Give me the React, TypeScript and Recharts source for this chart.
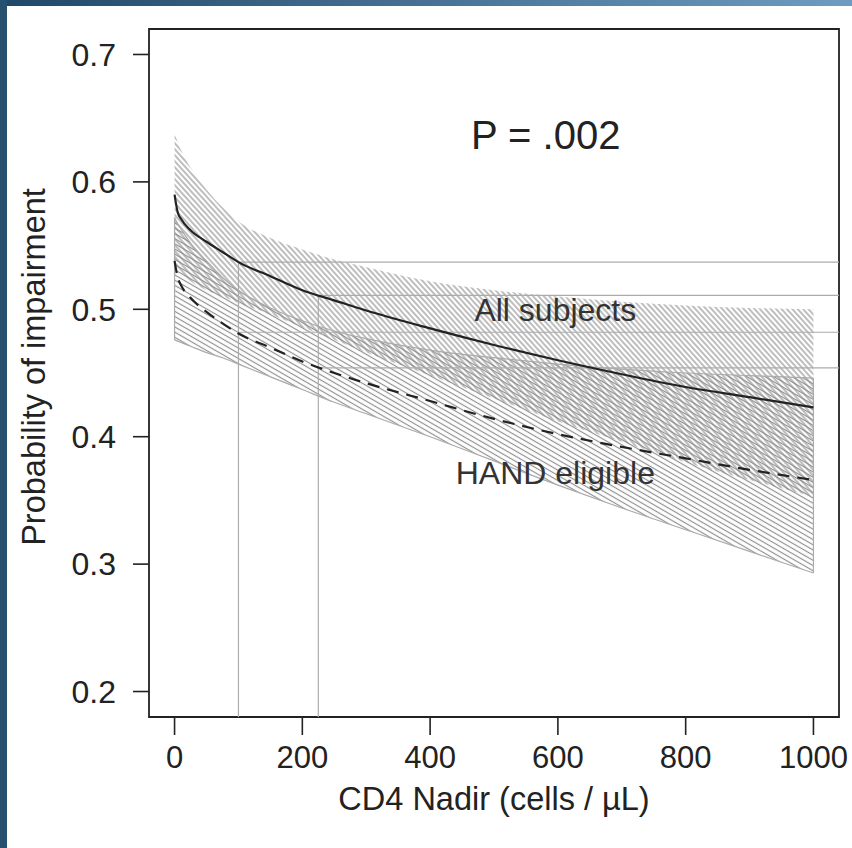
import React from "react";
import {
  Area,
  ComposedChart,
  Line,
  ReferenceArea,
  ReferenceDot,
  ReferenceLine,
  XAxis,
  YAxis,
} from "recharts";

// CD4 nadir grid the curves were read at
const cd4 = [0, 5, 10, 25, 50, 75, 100, 150, 200, 250, 300, 400, 500, 600, 700, 800, 900, 1000];

// All subjects: estimate and confidence band
const allSubjects = [0.59, 0.576, 0.571, 0.562, 0.553, 0.545, 0.537, 0.526, 0.515, 0.507, 0.499, 0.485, 0.472, 0.46, 0.449, 0.439, 0.431, 0.423];
const allUpper = [0.638, 0.631, 0.625, 0.611, 0.594, 0.58, 0.569, 0.556, 0.547, 0.539, 0.533, 0.522, 0.515, 0.51, 0.506, 0.503, 0.501, 0.5];
const allLower = [0.535, 0.531, 0.528, 0.522, 0.515, 0.51, 0.505, 0.496, 0.486, 0.476, 0.466, 0.448, 0.43, 0.412, 0.396, 0.38, 0.366, 0.353];

// HAND eligible: estimate and confidence band
const handEligible = [0.538, 0.525, 0.519, 0.509, 0.498, 0.489, 0.481, 0.47, 0.459, 0.45, 0.442, 0.428, 0.414, 0.402, 0.392, 0.383, 0.374, 0.366];
const handUpper = [0.572, 0.567, 0.563, 0.552, 0.538, 0.525, 0.515, 0.501, 0.491, 0.483, 0.477, 0.468, 0.462, 0.457, 0.453, 0.45, 0.448, 0.446];
const handLower = [0.476, 0.475, 0.474, 0.471, 0.466, 0.462, 0.457, 0.447, 0.437, 0.427, 0.418, 0.4, 0.381, 0.362, 0.344, 0.327, 0.31, 0.293];

// drop lines at two CD4 values
const markerCd4 = [100, 225];
const markerAll = [0.537, 0.511];
const markerHand = [0.482, 0.454];

const xTicks = [0, 200, 400, 600, 800, 1000];
const yTicks = [0.2, 0.3, 0.4, 0.5, 0.6, 0.7];
// ticks of the neighbouring panel, cut off at the right edge
const rightPanelTicks = [0.667, 0.6, 0.501, 0.429, 0.332];

const X_DOMAIN: [number, number] = [-40, 1040];
const Y_DOMAIN: [number, number] = [0.18, 0.72];

const FONT = "'Liberation Sans', Arial, Helvetica, sans-serif";
const INK = "#222222";
const HATCH = "#8e8e8e";
const REF = "#ababab";

const data = cd4.map((c, i) => ({
  cd4: c,
  all: allSubjects[i],
  allBand: [allLower[i], allUpper[i]],
  hand: handEligible[i],
  handBand: [handLower[i], handUpper[i]],
}));

const last = cd4.length - 1;

export default function App() {
  return (
    <div
      style={{
        position: "absolute",
        left: 0,
        top: 0,
        width: 852,
        height: 848,
        background: "#ffffff",
        overflow: "hidden",
        fontFamily: FONT,
      }}
    >
      <div style={{ position: "absolute", left: 0, top: 0, width: 852, height: 6, background: "linear-gradient(90deg, #1f4868, #6e9bc1)" }} />
      <div style={{ position: "absolute", left: 0, top: 0, width: 7, height: 848, background: "#26506f" }} />
      <div style={{ position: "absolute", left: 0, top: 0 }}>
        <ComposedChart width={852} height={848} data={data} margin={{ top: 29, right: 0, bottom: 0, left: 0 }}>
          <defs>
            <pattern id="hatchAll" patternUnits="userSpaceOnUse" width="6" height="4" patternTransform="rotate(48)">
              <line x1="0" y1="2" x2="6" y2="2" stroke={HATCH} strokeWidth="1.15" />
            </pattern>
            <pattern id="hatchHand" patternUnits="userSpaceOnUse" width="6" height="4.5" patternTransform="rotate(30)">
              <line x1="0" y1="2.25" x2="6" y2="2.25" stroke={HATCH} strokeWidth="1.15" />
            </pattern>
          </defs>
          <XAxis
            dataKey="cd4"
            type="number"
            domain={X_DOMAIN}
            ticks={xTicks}
            allowDataOverflow
            axisLine={false}
            tickSize={18}
            tickMargin={11}
            height={131}
            tickLine={{ stroke: INK, strokeWidth: 1.6 }}
            tick={{ fill: INK, fontSize: 31, fontFamily: FONT }}
            label={{ value: "CD4 Nadir (cells / µL)", position: "insideBottom", offset: 38, fill: INK, fontSize: 32.5, fontFamily: FONT }}
          />
          <YAxis
            type="number"
            domain={Y_DOMAIN}
            ticks={yTicks}
            allowDataOverflow
            axisLine={false}
            width={149}
            tickSize={16}
            tickMargin={17}
            tickFormatter={(v: number) => v.toFixed(1)}
            tickLine={{ stroke: INK, strokeWidth: 1.6 }}
            tick={{ fill: INK, fontSize: 32, fontFamily: FONT }}
            label={{ value: "Probability of impairment", angle: -90, position: "insideLeft", offset: 33, dy: -6, fill: INK, fontSize: 32.5, fontFamily: FONT, style: { textAnchor: "middle" } }}
          />
          <YAxis
            yAxisId="right"
            orientation="right"
            type="number"
            domain={Y_DOMAIN}
            ticks={rightPanelTicks}
            allowDataOverflow
            axisLine={false}
            width={13}
            tickSize={13}
            tick={false}
            tickLine={{ stroke: INK, strokeWidth: 1.6 }}
          />

          <Area
            type="monotone"
            dataKey="allBand"
            fill="url(#hatchAll)"
            fillOpacity={1}
            stroke="none"
            isAnimationActive={false}
          />
          <Area
            type="monotone"
            dataKey="handBand"
            fill="url(#hatchHand)"
            fillOpacity={1}
            stroke={REF}
            strokeWidth={1.2}
            isAnimationActive={false}
          />
          <ReferenceLine
            segment={[{ x: 0, y: handLower[0] }, { x: 0, y: handUpper[0] }]}
            stroke={REF}
            strokeWidth={1.2}
          />
          <ReferenceLine
            segment={[{ x: cd4[last], y: handLower[last] }, { x: cd4[last], y: handUpper[last] }]}
            stroke={REF}
            strokeWidth={1.2}
          />

          {markerCd4.map((c, i) => (
            <ReferenceLine key={`v${c}`} segment={[{ x: c, y: Y_DOMAIN[0] }, { x: c, y: markerAll[i] }]} stroke={REF} strokeWidth={1.2} />
          ))}
          {markerCd4.map((c, i) => (
            <ReferenceLine key={`ha${c}`} segment={[{ x: c, y: markerAll[i] }, { x: X_DOMAIN[1], y: markerAll[i] }]} stroke={REF} strokeWidth={1.2} />
          ))}
          {markerCd4.map((c, i) => (
            <ReferenceLine key={`hh${c}`} segment={[{ x: c, y: markerHand[i] }, { x: X_DOMAIN[1], y: markerHand[i] }]} stroke={REF} strokeWidth={1.2} />
          ))}

          <Line type="monotone" dataKey="all" stroke={INK} strokeWidth={2.2} dot={false} isAnimationActive={false} />
          <Line type="monotone" dataKey="hand" stroke={INK} strokeWidth={2.2} strokeDasharray="12 8" dot={false} isAnimationActive={false} />

          <ReferenceDot x={581} y={0.637} r={0} label={{ value: "P = .002", position: "center", fill: INK, fontSize: 40, fontFamily: FONT }} />
          <ReferenceDot x={596} y={0.5} r={0} label={{ value: "All subjects", position: "center", fill: "#333333", fontSize: 32, fontFamily: FONT }} />
          <ReferenceDot x={596} y={0.372} r={0} label={{ value: "HAND eligible", position: "center", fill: "#333333", fontSize: 32, fontFamily: FONT }} />

          <ReferenceArea
            x1={X_DOMAIN[0]}
            x2={X_DOMAIN[1]}
            y1={Y_DOMAIN[0]}
            y2={Y_DOMAIN[1]}
            fill="none"
            stroke={INK}
            strokeWidth={1.8}
            ifOverflow="visible"
          />
        </ComposedChart>
      </div>
    </div>
  );
}
